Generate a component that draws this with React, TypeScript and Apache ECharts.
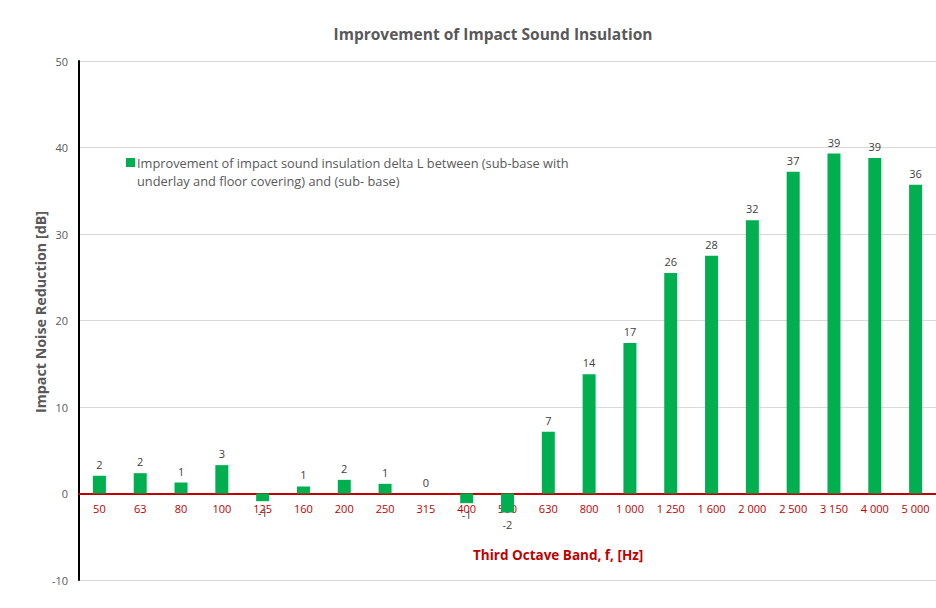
import React, { useEffect, useRef } from "react";
import * as echarts from "echarts";

const categories = ["50", "63", "80", "100", "125", "160", "200", "250", "315", "400", "500", "630", "800", "1 000", "1 250", "1 600", "2 000", "2 500", "3 150", "4 000", "5 000"];
const values = [2.05, 2.35, 1.27, 3.28, -0.89, 0.81, 1.58, 1.12, 0, -1.12, -2.2, 7.14, 13.8, 17.4, 25.5, 27.5, 31.6, 37.2, 39.3, 38.8, 35.7];
const yTicks = { min: -10, max: 50, interval: 10 };
const seriesName = "Improvement of impact sound insulation delta L between (sub-base with underlay and floor covering) and (sub- base)";
const legendLine1 = "Improvement of impact sound insulation delta L between (sub-base with";
const legendLine2 = "underlay and floor covering) and (sub- base)";
const titleText = "Improvement of Impact Sound Insulation";
const xName = "Third Octave Band, f, [Hz]";
const yName = "Impact Noise Reduction [dB]";

const FONT = "'Open Sans', sans-serif";
const GREEN = "#00B050";
const RED = "#C00000";
const GRAY = "#595959";

export default function App() {
  const ref = useRef<HTMLDivElement>(null);
  useEffect(() => {
    document.body.style.margin = "0";
    const chart = echarts.init(ref.current!, null, { renderer: "svg" });
    chart.setOption({
      animation: false,
      textStyle: { fontFamily: FONT },
      title: {
        text: titleText,
        left: 488,
        top: 21,
        textAlign: "center",
        textStyle: { fontFamily: FONT, fontSize: 15.5, fontWeight: "bold", color: GRAY },
      },
      grid: { left: 79, right: 0, top: 61, bottom: 28, containLabel: false },
      xAxis: {
        type: "category",
        data: categories,
        axisLine: { onZero: true, lineStyle: { color: RED, width: 2 } },
        axisTick: { show: false },
        axisLabel: { color: RED, fontSize: 11, margin: -77, fontFamily: FONT, interval: 0 },
        splitLine: { show: false },
      },
      yAxis: {
        type: "value",
        min: yTicks.min,
        max: yTicks.max,
        interval: yTicks.interval,
        axisLine: { show: true, onZero: false, lineStyle: { color: "#000000", width: 2 } },
        axisTick: { show: false },
        axisLabel: { color: GRAY, fontSize: 11, margin: 11, fontFamily: FONT },
        splitLine: { lineStyle: { color: "#D9D9D9", width: 1 } },
      },
      series: [
        {
          name: seriesName,
          type: "bar",
          barWidth: 13,
          data: values.map((v) => ({
            value: v,
            label: { position: v < 0 ? "bottom" : "top" },
          })),
          itemStyle: { color: GREEN },
          label: {
            show: true,
            color: "#404040",
            fontSize: 11,
            fontFamily: FONT,
            distance: 6,
            formatter: (p: any) => String(Math.round(p.value)),
          },
        },
      ],
      graphic: [
        {
          type: "rect",
          left: 126,
          top: 158,
          shape: { width: 9, height: 9 },
          style: { fill: GREEN },
        },
        {
          type: "text",
          left: 137,
          top: 154,
          style: {
            text: legendLine1 + "\n" + legendLine2,
            fill: GRAY,
            font: `12.8px ${FONT}`,
            lineHeight: 18,
          },
        },
        {
          type: "text",
          x: 40,
          y: 312,
          rotation: Math.PI / 2,
          style: {
            text: yName,
            fill: GRAY,
            font: `bold 14.3px ${FONT}`,
            textAlign: "center",
            textVerticalAlign: "middle",
          },
        },
        {
          type: "text",
          left: 473,
          top: 548,
          style: {
            text: xName,
            fill: RED,
            font: `bold 13.5px ${FONT}`,
            textAlign: "center",
          },
        },
      ],
    });
    return () => chart.dispose();
  }, []);
  return <div ref={ref} style={{ width: 936, height: 608 }} />;
}
